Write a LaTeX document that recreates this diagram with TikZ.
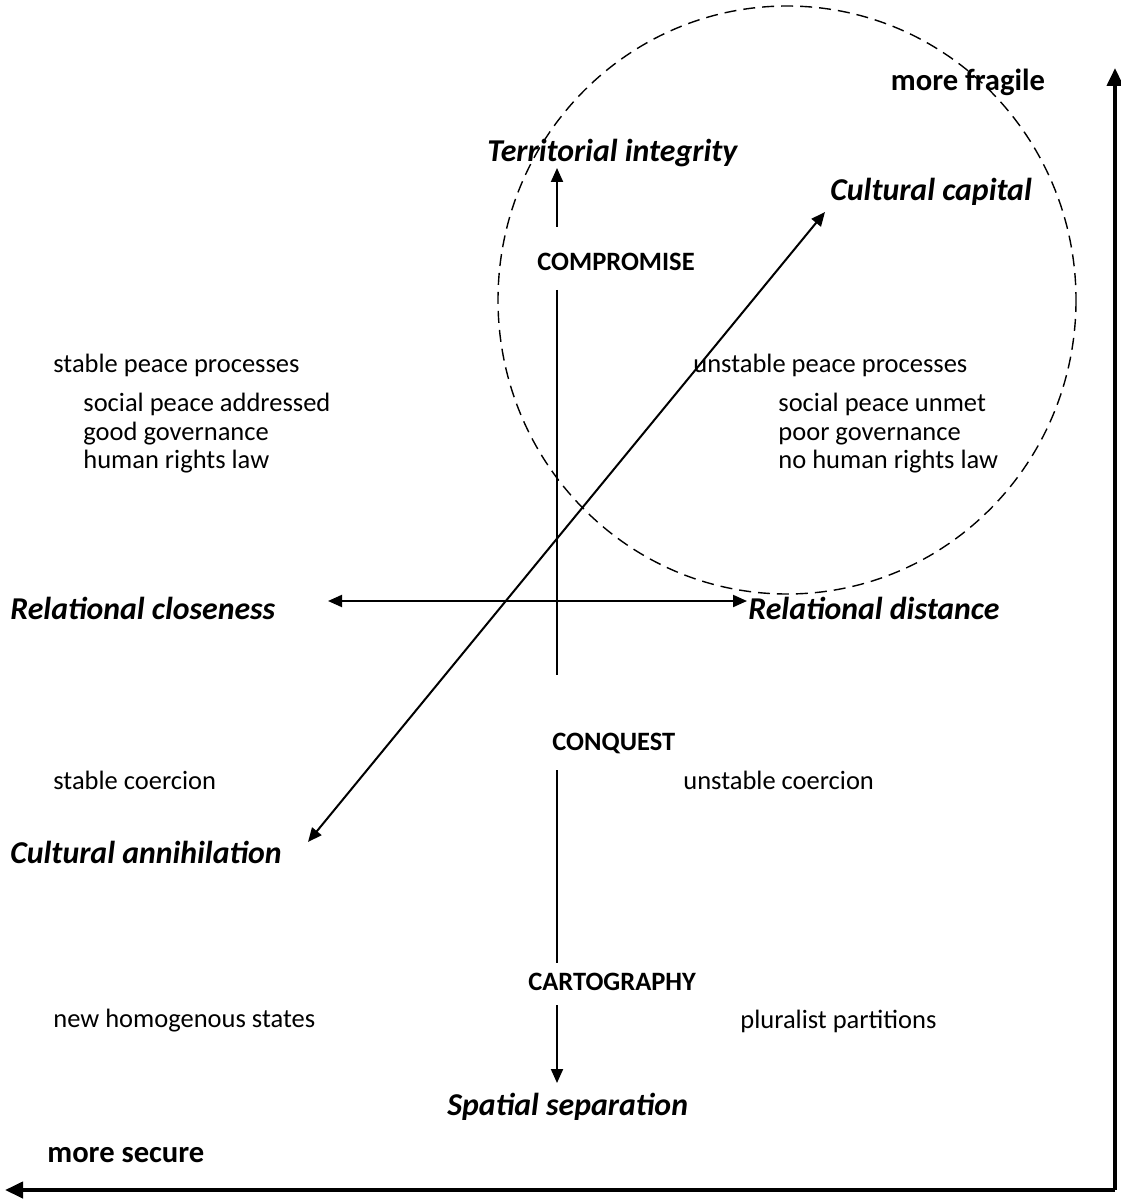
\documentclass[tikz,border=0pt]{standalone}
\usepackage{fontspec}
\setmainfont{Carlito}
\usetikzlibrary{arrows.meta}
\tikzset{
  plain/.style={font=\fontsize{13.25}{14.25}\selectfont, inner sep=0pt, anchor=west},
  mode/.style={plain, font=\fontsize{13.25}{16}\selectfont\bfseries},
  pole/.style={plain, font=\fontsize{15.9}{19}\selectfont\bfseries\itshape},
  gauge/.style={plain, font=\fontsize{15.3}{19}\selectfont\bfseries},
  axis/.style={line width=1pt, -{Triangle[length=7pt,width=6pt]}},
  bigaxis/.style={line width=2pt, -{Triangle[length=9pt,width=8pt]}},
}
\begin{document}
\begin{tikzpicture}[x=0.5pt, y=-0.5pt]
  \useasboundingbox (0,0) rectangle (1120,1202);

  % Outer scale
  \coordinate (corner) at (1115,1190);
  \coordinate (fragile-end) at (1115,68);
  \coordinate (secure-end) at (5,1190);
  \draw[bigaxis] (corner) -- (fragile-end);
  \draw[bigaxis] (corner) -- (secure-end);
  \node[gauge, anchor=center] (fragile) at (968,82) {more fragile};
  \node[gauge] (secure) at (47,1155) {more secure};

  % Dashed zone
  \draw[dashed, dash pattern=on 6pt off 3.5pt, line width=0.7pt] (787,300) ellipse [x radius=289, y radius=294];

  % Poles
  \node[pole] (territory) at (487,153) {Territorial integrity};
  \node[pole] (capital) at (830,192) {Cultural capital};
  \node[pole] (closeness) at (10,608) {Relational closeness};
  \node[pole] (distance) at (748,608) {Relational distance};
  \node[pole] (annihilation) at (10,852) {Cultural annihilation};
  \node[pole] (separation) at (447,1107) {Spatial separation};

  % Modes
  \node[mode] (compromise) at (537,262) {COMPROMISE};
  \node[mode] (conquest) at (552,743) {CONQUEST};
  \node[mode] (cartography) at (528,982) {CARTOGRAPHY};

  % Vertical axis
  \coordinate (v1) at (557,227);
  \coordinate (v2) at (557,168);
  \coordinate (v3) at (557,290);
  \coordinate (v4) at (557,675);
  \coordinate (v5) at (557,770);
  \coordinate (v6) at (557,963);
  \coordinate (v7) at (557,1005);
  \coordinate (v8) at (557,1083);
  \draw[axis] (v1) -- (v2);
  \draw[line width=1pt] (v3) -- (v4);
  \draw[line width=1pt] (v5) -- (v6);
  \draw[axis] (v7) -- (v8);

  % Horizontal and diagonal axes
  \coordinate (h1) at (328,601);
  \coordinate (h2) at (747,601);
  \draw[axis, {Triangle[length=7pt,width=6pt]}-{Triangle[length=7pt,width=6pt]}] (h1) -- (h2);
  \coordinate (d1) at (308,842);
  \coordinate (d2) at (825,212);
  \draw[axis, {Triangle[length=7pt,width=6pt]}-{Triangle[length=7pt,width=6pt]}] (d1) -- (d2);

  % Quadrant notes
  \node[plain] (stablepeace) at (53,365) {stable peace processes};
  \node[plain] (unstablepeace) at (693,365) {unstable peace processes};
  \node[plain, align=left, anchor=north west] (goodlist) at (83,393) {social peace addressed\\good governance\\human rights law};
  \node[plain, align=left, anchor=north west] (poorlist) at (778,393) {social peace unmet\\poor governance\\no human rights law};
  \node[plain] (stablecoercion) at (53,780) {stable coercion};
  \node[plain] (unstablecoercion) at (683,780) {unstable coercion};
  \node[plain] (homogenous) at (53,1021) {new homogenous states};
  \node[plain] (pluralist) at (740,1021) {pluralist partitions};
\end{tikzpicture}
\end{document}
